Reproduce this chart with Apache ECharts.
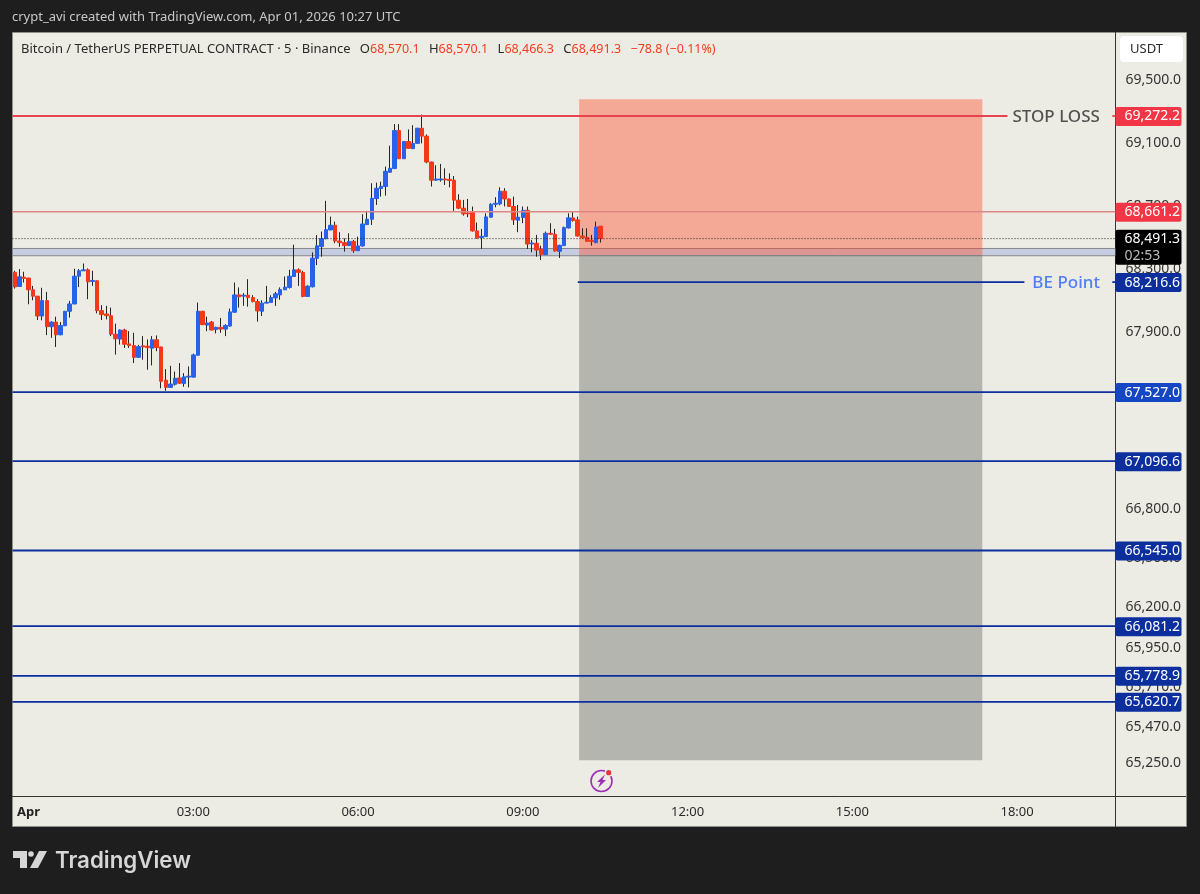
<!DOCTYPE html>
<html>
<head>
    <meta charset="utf-8">
    <title>BTCUSDT.P 5m</title>
    <script src="https://cdn.jsdelivr.net/npm/echarts@6/dist/echarts.min.js"></script>
    <style type="text/css">
    html, body { margin: 0; padding: 0; background: #1e1e1e; }
    #chart { width: 1200px; height: 894px; }
    </style>
</head>
<body>
    <div id="chart"></div>
    <script>
        var FONT = '"Noto Sans", sans-serif';

        // open, close, low, high (5 minute bars, first one is 23:45)
        var candles = [
            [68278,68187,68176,68288],[68189,68250,68187,68299],[68248,68240,68214,68282],[68242,68168,68077,68244],
            [68168,68128,68102,68193],[68128,68003,67978,68128],[68003,68100,67976,68181],[68100,67936,67883,68155],
            [67936,67965,67866,67970],[67965,67885,67809,67999],[67885,67944,67883,67965],[67942,68033,67940,68035],
            [68033,68079,67993,68098],[68079,68254,68077,68301],[68254,68288,68185,68299],[68288,68294,68286,68334],
            [68294,68218,68109,68303],[68221,68227,68193,68288],[68225,68037,68020,68227],[68037,68012,67978,68071],
            [68016,68005,67982,68067],[68005,67889,67877,68056],[67889,67860,67761,67955],[67858,67915,67824,67919],
            [67915,67826,67803,67923],[67828,67818,67803,67908],[67818,67744,67708,67898],[67744,67811,67740,67822],
            [67816,67809,67729,67877],[67814,67805,67666,67856],[67801,67854,67693,67877],[67854,67805,67782,67881],
            [67809,67594,67550,67809],[67601,67556,67535,67670],[67556,67577,67554,67691],[67575,67613,67567,67655],
            [67615,67582,67577,67708],[67580,67622,67560,67645],[67620,67626,67556,67687],[67620,67759,67617,67767],
            [67757,68033,67755,68088],[68033,67949,67946,68035],[67946,67959,67908,67999],[67965,67915,67913,67972],
            [67919,67932,67894,67936],[67932,67921,67898,67991],[67921,67944,67877,67951],[67940,68029,67936,68050],
            [68027,68136,68024,68214],[68136,68124,68056,68183],[68128,68134,68067,68147],[68134,68119,68062,68235],
            [68119,68094,68088,68134],[68094,68035,67968,68109],[68033,68084,68003,68102],[68084,68090,68084,68193],
            [68088,68119,68088,68134],[68117,68143,68067,68155],[68136,68170,68105,68183],[68168,68185,68168,68252],
            [68183,68254,68176,68294],[68252,68294,68252,68453],[68294,68278,68193,68303],[68278,68126,68121,68288],
            [68126,68191,68124,68197],[68187,68368,68183,68404],[68366,68446,68324,68514],[68441,68491,68377,68536],
            [68491,68548,68487,68731],[68546,68576,68546,68631],[68576,68476,68462,68599],[68476,68466,68440,68532],
            [68466,68447,68409,68493],[68447,68474,68445,68525],[68474,68415,68402,68483],[68415,68445,68413,68504],
            [68445,68584,68440,68646],[68580,68614,68578,68667],[68614,68747,68578,68843],[68745,68811,68705,68847],
            [68809,68824,68758,68853],[68822,68919,68764,68949],[68913,68938,68910,69082],[68936,69179,68934,69220],
            [69179,68999,68999,69220],[68999,69109,68997,69112],[69109,69065,69065,69186],[69063,69097,69063,69213],
            [69097,69194,69095,69196],[69194,69143,69097,69281],[69143,68978,68970,69154],[68978,68862,68822,68980],
            [68862,68870,68858,68957],[68864,68870,68853,68966],[68870,68864,68832,68938],[68868,68860,68817,68906],
            [68862,68735,68667,68889],[68735,68684,68678,68773],[68684,68648,68637,68737],[68654,68648,68627,68743],
            [68656,68540,68536,68695],[68540,68496,68491,68593],[68498,68506,68426,68553],[68504,68629,68502,68652],
            [68627,68709,68625,68716],[68709,68716,68690,68754],[68711,68792,68703,68817],[68792,68743,68695,68811],
            [68743,68695,68695,68745],[68695,68610,68578,68758],[68608,68627,68532,68705],[68625,68671,68589,68695],
            [68671,68457,68426,68695],[68457,68464,68405,68483],[68462,68419,68377,68515],[68424,68392,68356,68447],
            [68390,68525,68388,68536],[68525,68519,68515,68589],[68519,68413,68409,68553],[68411,68449,68369,68453],
            [68447,68561,68445,68568],[68559,68623,68555,68652],[68623,68606,68599,68661],[68610,68508,68504,68631],
            [68508,68498,68493,68557],[68500,68474,68472,68557],[68481,68472,68447,68515],[68466,68565,68462,68599],
            [68570.1,68491.3,68466.3,68570.1]
        ];

        var priceTicks = [69500,69100,68700,68300,67900,67500,67100,66800,66500,66200,65950,65710,65470,65250];
        var timeTicks = {'00:00':'Apr','03:00':'03:00','06:00':'06:00','09:00':'09:00','12:00':'12:00','15:00':'15:00','18:00':'18:00'};

        var stopLoss = 69272.2;
        var resistance = 68661.2;
        var lastPrice = 68491.3;
        var bePoint = 68216.6;
        var targets = [67527.0, 67096.6, 66545.0, 66081.2, 65778.9, 65620.7];
        var targetColors = ['#1546c4', '#0d2f9e', '#0d2f9e', '#0d2f9e', '#0d2f9e', '#0d2f9e'];

        var bandPrices = [68429, 68383];
        var zoneTop = 69379, zoneEntry = 68388, zoneBottom = 65267;
        var zoneStart = 120.3, zoneEnd = 208.4;     // bars after 00:00

        var BAR_COUNT = 241, PRE_BARS = 3;
        var axisFrom = -PRE_BARS - 0.5, axisTo = BAR_COUNT - PRE_BARS - 0.5;

        var UP = '#2962e8', DOWN = '#f5381a', DARK_BLUE = '#0d2f9e', RED = '#e8414f';

        var times = [];
        for (var i = 0; i < BAR_COUNT; i++) {
            var m = (i - PRE_BARS) * 5;
            if (m < 0) m += 1440;
            var h = Math.floor(m / 60) % 24, mm = m % 60;
            times.push((h < 10 ? '0' : '') + h + ':' + (mm < 10 ? '0' : '') + mm);
        }

        function fmt(v) {
            return v.toLocaleString('en-US', {minimumFractionDigits: 1, maximumFractionDigits: 1});
        }

        // a level line from bar a to bar b, with the tag on the price scale when a colour is given
        function level(price, a, b, color, width, tag) {
            var s = {
                type: 'line', xAxisIndex: 1, symbol: 'none', silent: true, z: 3,
                data: [[a, price], [b, price]],
                lineStyle: {color: color, width: width}
            };
            if (tag) {
                s.endLabel = {
                    show: true, distance: 0, offset: [0, 0.5], formatter: fmt(price),
                    backgroundColor: tag, color: '#fff', borderRadius: 2,
                    fontFamily: FONT, fontSize: 14, padding: [2, 5, 2, 9], width: 52, height: 15, lineHeight: 15
                };
            }
            return s;
        }

        function textMark(price, at, text, color) {
            return {
                type: 'scatter', xAxisIndex: 1, symbolSize: 1, silent: true, z: 5,
                itemStyle: {color: 'transparent'},
                data: [[at, price]],
                label: {show: true, position: 'left', distance: 0, offset: [0, 1], formatter: text, color: color, fontFamily: FONT, fontSize: 17, fontWeight: 500}
            };
        }

        var last = candles[candles.length - 1];
        var legendText = '{k|Bitcoin / TetherUS PERPETUAL CONTRACT · 5 · Binance}  {k|O}{v|' + fmt(last[0]) + '}  {k|H}{v|' + fmt(last[3]) +
            '}  {k|L}{v|' + fmt(last[2]) + '}  {k|C}{v|' + fmt(last[1]) + '}  {v|−78.8 (−0.11%)}';

        var series = [
            // wicks
            {
                type: 'candlestick', barWidth: 1, z: 2, silent: true,
                data: candles,
                itemStyle: {color: '#262626', color0: '#262626', borderColor: '#262626', borderColor0: '#262626', borderColorDoji: '#262626', borderWidth: 1}
            },
            // bodies, drawn over the wicks
            {
                type: 'candlestick', barWidth: 4, z: 2, silent: true,
                data: candles.map(function (c) {
                    return [c[0], c[1], Math.min(c[0], c[1]), Math.max(c[0], c[1])];
                }),
                itemStyle: {color: UP, color0: DOWN, borderColor: UP, borderColor0: DOWN, borderWidth: 1}
            },
            // band and position zones
            {
                type: 'line', xAxisIndex: 1, symbol: 'none', silent: true, z: 1,
                data: [[zoneStart, zoneEntry], [zoneEnd, zoneEntry]],
                lineStyle: {width: 0},
                markArea: {
                    silent: true,
                    data: [
                        [{xAxis: axisFrom, yAxis: bandPrices[0], itemStyle: {color: '#c6cde0', borderColor: '#85878c', borderWidth: 1}},
                         {xAxis: axisTo, yAxis: bandPrices[1]}],
                        [{xAxis: zoneStart, yAxis: zoneTop, itemStyle: {color: 'rgba(255,71,34,0.4)'}}, {xAxis: zoneEnd, yAxis: zoneEntry}],
                        [{xAxis: zoneStart, yAxis: zoneEntry, itemStyle: {color: 'rgba(97,101,95,0.4)'}}, {xAxis: zoneEnd, yAxis: zoneBottom}]
                    ]
                }
            },
            level(stopLoss, axisFrom, 213.9, RED, 1.8),
            level(stopLoss, 236.8, axisTo, RED, 1.8, '#f23645'),
            level(resistance, axisFrom, axisTo, '#e08585', 1.5, '#f23645'),
            level(bePoint, 120, 217.6, DARK_BLUE, 1.8),
            level(bePoint, 236.8, axisTo, DARK_BLUE, 1.8, DARK_BLUE),
            textMark(stopLoss, 234.2, 'STOP LOSS', '#2a2a2a'),
            textMark(bePoint, 234.2, 'BE Point', '#2962ff')
        ];

        targets.forEach(function (p, i) {
            series.push(level(p, axisFrom, axisTo, DARK_BLUE, 1.8, targetColors[i]));
        });

        // last price with countdown
        var lastLine = level(lastPrice, axisFrom, axisTo, '#222', 1);
        lastLine.lineStyle.type = [1, 2];
        lastLine.z = 4;
        lastLine.endLabel = {
            show: true, distance: 0, offset: [0, 8.5],
            formatter: '{p|' + fmt(lastPrice) + '}\n{t|02:53}',
            backgroundColor: '#000', borderRadius: 2, padding: [0, 5, 1, 9], width: 52,
            rich: {
                p: {color: '#fff', fontFamily: FONT, fontSize: 14, lineHeight: 18},
                t: {color: '#bbb', fontFamily: FONT, fontSize: 14, lineHeight: 16}
            }
        };
        series.push(lastLine);

        var chart = echarts.init(document.getElementById('chart'));

        var option = {
            animation: false,
            backgroundColor: '#1e1e1e',
            textStyle: {fontFamily: FONT},
            title: [
                {
                    text: 'crypt_avi created with TradingView.com, Apr 01, 2026 10:27 UTC',
                    left: 12, top: 11, padding: 0,
                    textStyle: {color: '#c8c8c8', fontFamily: FONT, fontSize: 13, fontWeight: 'normal'}
                },
                {
                    text: legendText,
                    left: 21, top: 40, padding: 0,
                    textStyle: {
                        fontWeight: 'normal',
                        rich: {
                            k: {color: '#2a2a2a', fontFamily: FONT, fontSize: 13, fontWeight: 'normal'},
                            v: {color: '#f23c1e', fontFamily: FONT, fontSize: 12.5, fontWeight: 'normal'}
                        }
                    }
                },
                {
                    text: 'TradingView',
                    left: 55, top: 850, padding: 0,
                    textStyle: {color: '#d6d6d6', fontFamily: 'Inter, sans-serif', fontSize: 22.3, fontWeight: 600}
                }
            ],
            grid: {left: 12.5, top: 32, width: 1103, height: 764, show: false},
            xAxis: [
                {
                    type: 'category', data: times, position: 'bottom',
                    axisLine: {show: true, lineStyle: {color: '#333', width: 1}},
                    axisTick: {show: false},
                    splitLine: {show: false},
                    axisLabel: {
                        margin: 10, color: '#2a2a2a', fontFamily: FONT, fontSize: 13,
                        interval: function (idx, val) { return timeTicks[val] !== undefined; },
                        formatter: function (val) { return val === '00:00' ? '{b|Apr}' : timeTicks[val]; },
                        rich: {b: {color: '#222', fontFamily: FONT, fontSize: 13, fontWeight: 'bold'}}
                    }
                },
                {type: 'value', show: false, min: axisFrom, max: axisTo, splitLine: {show: false}}
            ],
            yAxis: {
                type: 'log', position: 'right', min: 65052, max: 69812,
                axisLine: {show: true, onZero: false, lineStyle: {color: '#333', width: 1}},
                axisTick: {show: false},
                splitLine: {show: false},
                axisLabel: {
                    margin: 10, color: '#333', fontFamily: FONT, fontSize: 14, padding: [2, 0, 0, 0],
                    customValues: priceTicks,
                    formatter: function (v) { return fmt(v); }
                }
            },
            series: series,
            graphic: [
                // chart panel
                {type: 'rect', z: -1, shape: {x: 12.5, y: 32.5, width: 1174, height: 794}, style: {fill: '#edece4', stroke: '#8f8f8a', lineWidth: 1}},
                {type: 'line', z: 1, shape: {x1: 1115.5, y1: 796, x2: 1115.5, y2: 827}, style: {stroke: '#333', lineWidth: 1}},
                {type: 'line', z: 1, shape: {x1: 1115, y1: 796.5, x2: 1186, y2: 796.5}, style: {stroke: '#333', lineWidth: 1}},
                // currency button
                {type: 'rect', z: 1, shape: {x: 1120, y: 36, width: 63, height: 26, r: 4}, style: {fill: '#ffffff'}},
                {type: 'text', z: 2, x: 1130, y: 43, style: {text: 'USDT', fill: '#2a2a2a', font: '13px "Noto Sans", sans-serif'}},
                // flash icon
                {type: 'circle', z: 1, shape: {cx: 601.5, cy: 781, r: 10.5}, style: {fill: 'none', stroke: '#9c2fb8', lineWidth: 1.6}},
                {type: 'polygon', z: 1, shape: {points: [[605, 774.5], [597, 782], [600.5, 782], [598, 788], [606, 780], [602.5, 780]]}, style: {fill: '#9c2fb8'}},
                {type: 'circle', z: 1, shape: {cx: 608.7, cy: 772.7, r: 4}, style: {fill: '#edece4'}},
                {type: 'circle', z: 2, shape: {cx: 608.7, cy: 772.7, r: 2.6}, style: {fill: '#e8333a'}},
                // logo
                {type: 'polygon', z: 1, shape: {points: [[13, 851], [27, 851], [27, 868], [20, 868], [20, 858], [13, 858]]}, style: {fill: '#d6d6d6'}},
                {type: 'circle', z: 1, shape: {cx: 31, cy: 854, r: 2.8}, style: {fill: '#d6d6d6'}},
                {type: 'polygon', z: 1, shape: {points: [[39, 851], [47, 851], [38, 868], [30, 868]]}, style: {fill: '#d6d6d6'}}
            ]
        };

        chart.setOption(option);
    </script>
</body>
</html>
